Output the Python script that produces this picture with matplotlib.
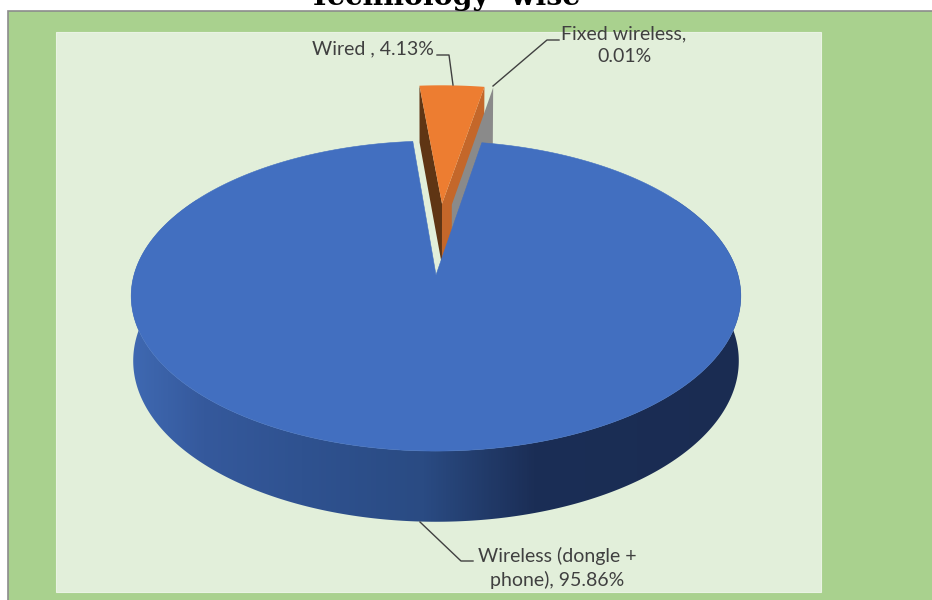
import numpy as np
import matplotlib
matplotlib.use("Agg")
import matplotlib.pyplot as plt
from matplotlib.colors import LinearSegmentedColormap
from matplotlib.patches import Polygon, Rectangle

# values, in pie order (clockwise from the first slice angle)
slices = ["Wired", "Fixed wireless", "Wireless"]
shares = [4.13, 0.01, 95.86]
explode = [0.5, 0.5, 0.0]
labels = ["Wired , 4.13%", "Fixed wireless,\n0.01%", "Wireless (dongle +\nphone), 95.86%"]
title = "Technology -wise"

first_angle = -5.0

# fake 3d pie: top and bottom plane of the disc as (centre y, y radius, x radius)
cx = 436
top_plane = (275, 152.2, 302)
bottom_plane = (339, 158, 300)
persp = 0.1355


def project(x, y, plane):
    cy, ry, rx = plane
    s = 1 / (1 + persp * y)
    return np.column_stack([cx + rx * x * s, cy - ry * y * s])


def arc(a0, a1, off=(0, 0), n=200):
    a = np.radians(np.linspace(a0, a1, n))
    return np.sin(a) + off[0], np.cos(a) + off[1]


fig = plt.figure(figsize=(9.32, 6), dpi=100)
ax = fig.add_axes([0, 0, 1, 1])
ax.set_axis_off()

# backgrounds
ax.add_patch(Rectangle((7.5, 10.5), 930, 600, fc="#a9d18e", ec="#8c8c8c", lw=1.2, zorder=0))
ax.add_patch(Rectangle((56, 32), 765, 560, fc="#e2efda", ec="#e9f3e3", lw=0.8, zorder=1))

# slice angles from the shares
edges = first_angle + np.cumsum([0] + shares) * 3.6
mids = (edges[:-1] + edges[1:]) / 2
offs = [(e * np.sin(np.radians(m)), e * np.cos(np.radians(m))) for e, m in zip(explode, mids)]

# wired slice
off = offs[0]
xa, ya = arc(edges[0], edges[1], off)
apex = ([off[0]], [off[1]])
top = project(np.r_[apex[0], xa], np.r_[apex[1], ya], top_plane)
left_top = project(np.r_[apex[0], xa[0]], np.r_[apex[1], ya[0]], top_plane)
left_bot = project(np.r_[apex[0], xa[0]], np.r_[apex[1], ya[0]], bottom_plane)
right_top = project(np.r_[apex[0], xa[-1]], np.r_[apex[1], ya[-1]], top_plane)
right_bot = project(np.r_[apex[0], xa[-1]], np.r_[apex[1], ya[-1]], bottom_plane)
ax.add_patch(Polygon(np.vstack([left_top, left_bot[::-1]]), fc="#5f3514", ec="none", zorder=3))
ax.add_patch(Polygon(np.vstack([right_top, right_bot[::-1]]), fc="#c4672a", ec="none", zorder=3))

# fixed wireless slice, only its grey side face shows
off = (offs[1][0] - 0.03, offs[1][1])
xf, yf = arc(edges[1], edges[2], off, n=2)
grey_top = project(np.r_[off[0], xf[0]], np.r_[off[1], yf[0]], top_plane)
grey_bot = project(np.r_[off[0], xf[0]], np.r_[off[1], yf[0]], bottom_plane)
ax.add_patch(Polygon(np.vstack([grey_top, grey_bot[::-1]]), fc="#8a8a8a", ec="none", zorder=4))

ax.add_patch(Polygon(top, fc="#ed7d31", ec="none", zorder=5))

# wireless slice: wall with gradient, then the top face
xw, yw = arc(edges[2], edges[3], n=500)
wall = np.vstack([project(xw, yw, top_plane), project(xw, yw, bottom_plane)[::-1]])
wall_cmap = LinearSegmentedColormap.from_list(
    "wall",
    [(0.0, "#3f69b2"), (0.12, "#35599c"), (0.28, "#2f5290"), (0.48, "#2a4b83"),
     (0.66, "#1b2e56"), (1.0, "#1a2c52")],
)
grad = ax.imshow(np.linspace(0, 1, 512).reshape(1, -1), cmap=wall_cmap, aspect="auto",
                 extent=(130, 742, 530, 200), zorder=6)
wall_patch = Polygon(wall, fc="none", ec="none", transform=ax.transData)
ax.add_patch(wall_patch)
grad.set_clip_path(wall_patch)

face = project(np.r_[0, xw], np.r_[0, yw], top_plane)
ax.add_patch(Polygon(face, fc="#426fc0", ec="#426fc0", lw=0.4, zorder=7))

# leader lines
line_color = "#404040"
leaders = [
    ([437, 449, 453], [55, 55, 85]),
    ([559, 547, 493], [40, 40, 86]),
    ([420, 461, 473], [522, 561, 561]),
]
for lx, ly in leaders:
    ax.plot(lx, ly, color=line_color, lw=1.0, zorder=8)

# data labels
label_pos = [(373, 49), (624, 45), (557, 568)]
for lab, (tx, ty) in zip(labels, label_pos):
    ax.text(tx, ty, lab, ha="center", va="center", family="Lato", fontsize=14,
            color=line_color, linespacing=1.4, zorder=9)

# title, cut by the top of the picture
ax.text(445, 5, title, ha="center", va="baseline", family="DejaVu Serif",
        fontweight="bold", fontsize=20.5, color="black", zorder=9)

ax.set_xlim(0, 932)
ax.set_ylim(600, 0)
fig.savefig("out.png", dpi=100)
